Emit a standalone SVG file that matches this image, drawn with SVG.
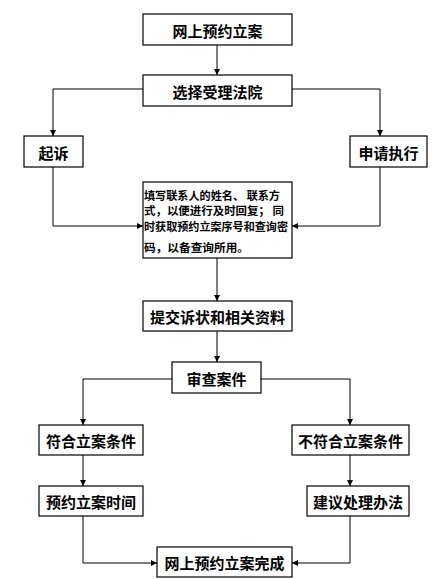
<svg xmlns="http://www.w3.org/2000/svg" width="442" height="579" viewBox="0 0 442 579">
<style>
.box{fill:#fff;stroke:#000;stroke-width:1.2}
.t{font-family:"Noto Sans CJK SC","Noto Sans",sans-serif;font-size:15px;font-weight:bold;fill:#000;text-anchor:middle;dominant-baseline:central}
.s{font-family:"Noto Sans CJK SC","Noto Sans",sans-serif;font-size:11px;font-weight:bold;fill:#000}
.c{fill:none;stroke:#000;stroke-width:1;marker-end:url(#ah)}
.n{fill:none;stroke:#000;stroke-width:1}
</style>
<defs>
<marker id="ah" markerWidth="6" markerHeight="6" refX="6" refY="3" orient="auto" markerUnits="userSpaceOnUse">
<path d="M0,0 L6,3 L0,6 Z" fill="#000"/>
</marker>
</defs>
<rect width="442" height="579" fill="#fff"/>
<g id="connectors">
<path class="c" d="M217,45 V75"/>
<path class="c" d="M143,89 H53 V136"/>
<path class="c" d="M292,89 H380 V136"/>
<path class="c" d="M53,167 V226 H143"/>
<path class="c" d="M380,167 V226 H292"/>
<path class="c" d="M217,258 V301"/>
<path class="c" d="M217,331 V362"/>
<path class="c" d="M172,379 H83 V425"/>
<path class="c" d="M261,379 H350 V425"/>
<path class="c" d="M83,455 V486"/>
<path class="c" d="M350,455 V486"/>
<path class="c" d="M83,516 V563 H157"/>
<path class="c" d="M350,516 V563 H292"/>
</g>
<g id="n1"><rect class="box" x="143" y="14" width="149" height="31"/><text class="t" x="217.5" y="30">网上预约立案</text></g>
<g id="n2"><rect class="box" x="143" y="75" width="149" height="31"/><text class="t" x="217.5" y="91">选择受理法院</text></g>
<g id="n3"><rect class="box" x="24" y="136" width="59" height="31"/><text class="t" x="53.5" y="152">起诉</text></g>
<g id="n4"><rect class="box" x="350" y="136" width="77" height="31"/><text class="t" x="388.5" y="152">申请执行</text></g>
<g id="n5"><rect class="box" x="143" y="182" width="149" height="76"/>
<text class="s" x="144" y="200" textLength="136" lengthAdjust="spacingAndGlyphs">填写联系人的姓名、 联系方</text>
<text class="s" x="144" y="215" textLength="140" lengthAdjust="spacingAndGlyphs">式，以便进行及时回复； 同</text>
<text class="s" x="144" y="231" textLength="144" lengthAdjust="spacingAndGlyphs">时获取预约立案序号和查询密</text>
<text class="s" x="144" y="252" textLength="105" lengthAdjust="spacingAndGlyphs">码，以备查询所用。</text>
</g>
<g id="n6"><rect class="box" x="143" y="301" width="149" height="30"/><text class="t" x="217.5" y="316">提交诉状和相关资料</text></g>
<g id="n7"><rect class="box" x="172" y="362" width="89" height="31"/><text class="t" x="216.5" y="378">审查案件</text></g>
<g id="n8"><rect class="box" x="39" y="425" width="104" height="30"/><text class="t" x="91" y="440">符合立案条件</text></g>
<g id="n9"><rect class="box" x="292" y="425" width="117" height="30"/><text class="t" x="350.5" y="440">不符合立案条件</text></g>
<g id="n10"><rect class="box" x="39" y="486" width="104" height="30"/><text class="t" x="91" y="501">预约立案时间</text></g>
<g id="n11"><rect class="box" x="307" y="486" width="102" height="30"/><text class="t" x="358" y="501">建议处理办法</text></g>
<g id="n12"><rect class="box" x="157" y="547" width="135" height="30"/><text class="t" x="224.5" y="562">网上预约立案完成</text></g>
</svg>
